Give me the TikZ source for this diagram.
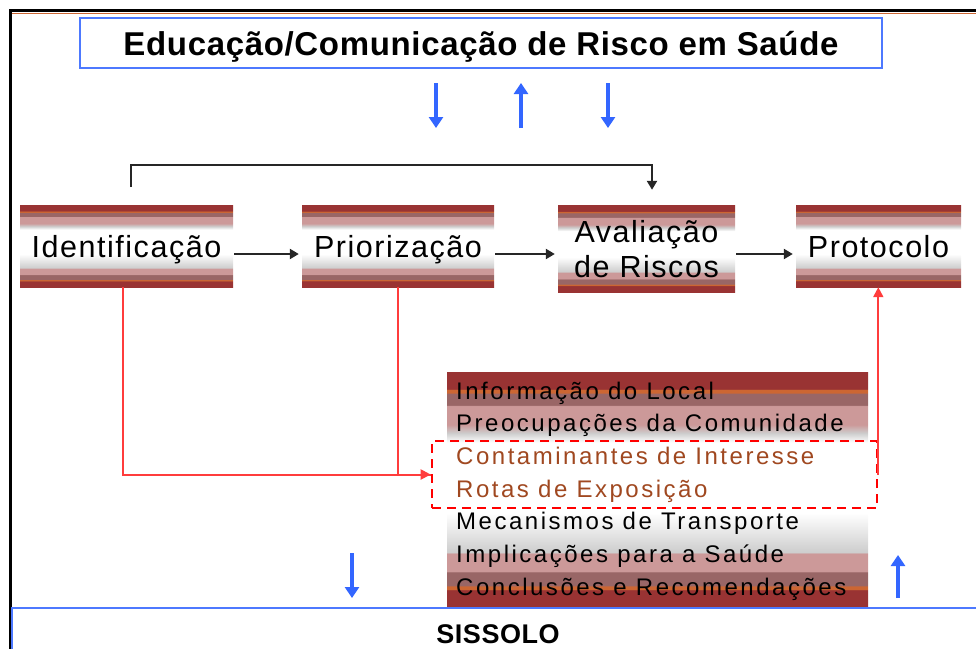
\documentclass[tikz,border=0pt]{standalone}
\usepackage{fontspec}
\setmainfont{Liberation Sans}
\newfontfamily\headfont[LetterSpace=2]{Liberation Sans}
\newfontfamily\boxfont[LetterSpace=5]{Liberation Sans}
\newfontfamily\listfont[LetterSpace=10.5]{Liberation Sans}
\usetikzlibrary{arrows.meta}

\definecolor{dkred}{RGB}{153,51,51}
\definecolor{mauve}{RGB}{153,102,102}
\definecolor{pinkish}{RGB}{204,153,153}
\definecolor{orn}{RGB}{204,102,51}
\definecolor{lgray}{RGB}{205,205,205}
\definecolor{rust}{RGB}{160,72,32}
\definecolor{bluebd}{RGB}{77,121,255}
\definecolor{bluear}{RGB}{51,102,255}
\definecolor{redln}{RGB}{255,60,60}

% bands of the step boxes (bottom = 25bp, top = 75bp)
\pgfdeclareverticalshading{stripes}{100bp}{
  color(0bp)=(dkred); color(28.6bp)=(dkred);
  color(28.8bp)=(orn); color(29.4bp)=(orn);
  color(29.6bp)=(mauve); color(32.4bp)=(mauve);
  color(32.6bp)=(pinkish); color(36.4bp)=(pinkish);
  color(36.6bp)=(lgray); color(45bp)=(white);
  color(60bp)=(white); color(62bp)=(lgray);
  color(63.8bp)=(pinkish); color(67.8bp)=(pinkish);
  color(68bp)=(mauve); color(70.4bp)=(mauve);
  color(70.6bp)=(orn); color(71.2bp)=(orn);
  color(71.4bp)=(dkred); color(100bp)=(dkred)}

\tikzset{
  stepbox/.style={shade, shading=stripes, inner sep=0pt, align=center,
    text depth=0pt, font=\boxfont\fontsize{30.5}{35}\selectfont},
  listbox/.style={shade, shading=stripes, inner sep=0pt},
  listitem/.style={anchor=west, inner sep=0pt, text height=17pt, text depth=5pt,
    font=\listfont\fontsize{24}{28}\selectfont},
  dashbox/.style={draw=red, line width=2.6pt, dash pattern=on 9pt off 6pt},
  bluebox/.style={draw=bluebd, line width=2.6pt, inner sep=0pt, text depth=0pt},
  bluearrow/.style={draw=bluear, line width=4.5pt, -{Triangle[length=11pt,width=14pt]}},
  blackarrow/.style={draw=black!85, line width=2.2pt, -{Triangle[length=9pt,width=10pt]},
    shorten <=1pt, shorten >=3pt},
  redline/.style={draw=redln, line width=2pt},
  redarrow/.style={redline, -{Triangle[length=10pt,width=10pt]}}
}

\begin{document}
\begin{tikzpicture}[x=1pt,y=1pt]
\clip (0,0) rectangle (976,-648);
% outer frame
\draw[line width=3pt] (10,-670) -- (10,-10.5) -- (990,-10.5);
\draw[orn, line width=1pt] (11.5,-13.3) -- (990,-13.3);

\node[bluebox, minimum width=802, minimum height=50] (edu) at (481,-43)
  {\headfont\bfseries\fontsize{33}{38}\selectfont Educação/Comunicação de Risco em Saúde};
\draw[bluearrow] (436,-83) -- (436,-128);
\draw[bluearrow] (521,-128) -- (521,-83);
\draw[bluearrow] (608,-83) -- (608,-128);

% steps
\node[stepbox, minimum width=213, minimum height=82] (ident) at (126.5,-246) {Identificação};
\node[stepbox, minimum width=192, minimum height=82] (prior) at (398,-246) {Priorização};
\node[stepbox, minimum width=177, minimum height=87] (aval) at (646.5,-248.5) {Avaliação\\de Riscos};
\node[stepbox, minimum width=165, minimum height=82] (prot) at (878.5,-246) {Protocolo};

\draw[blackarrow] (ident.east |- 0,-254) -- (prior.west |- 0,-254);
\draw[blackarrow] (prior.east |- 0,-254) -- (aval.west |- 0,-254);
\draw[blackarrow] (aval.east |- 0,-254) -- (prot.west |- 0,-254);
\coordinate (brk) at (131,-188);
\draw[blackarrow, shorten >=15pt] (brk) -- ++(0,23) -| ([xshift=5.5pt]aval.north);

% list of contents
\node[listbox, minimum width=421, minimum height=235] (info) at (657.5,-489.5) {};
\foreach \t/\c [count=\i] in {Informação do Local/black, Preocupações da Comunidade/black,
    Contaminantes de Interesse/rust, Rotas de Exposição/rust, Mecanismos de Transporte/black,
    Implicações para a Saúde/black, Conclusões e Recomendações/black}
  \node[listitem, text=\c] (l\i) at (456,{-393-32.67*(\i-1)}) {\t};
\node[dashbox, minimum width=445, minimum height=67] (cont) at (654.5,-474.5) {};

\draw[redline] ([xshift=-3.5pt]ident.south) |- (cont.west);
\draw[redarrow] (prior.south) |- (cont.west);
\draw[redarrow] (cont.east) -- (cont.east |- prot.south);

% bottom
\node[bluebox, minimum width=972, minimum height=52] (sis) at (498,-634)
  {\headfont\bfseries\fontsize{27}{32}\selectfont SISSOLO};
\draw[bluearrow] (352,-553) -- (352,-598);
\draw[bluearrow] (898,-598) -- (898,-555);
\end{tikzpicture}
\end{document}
